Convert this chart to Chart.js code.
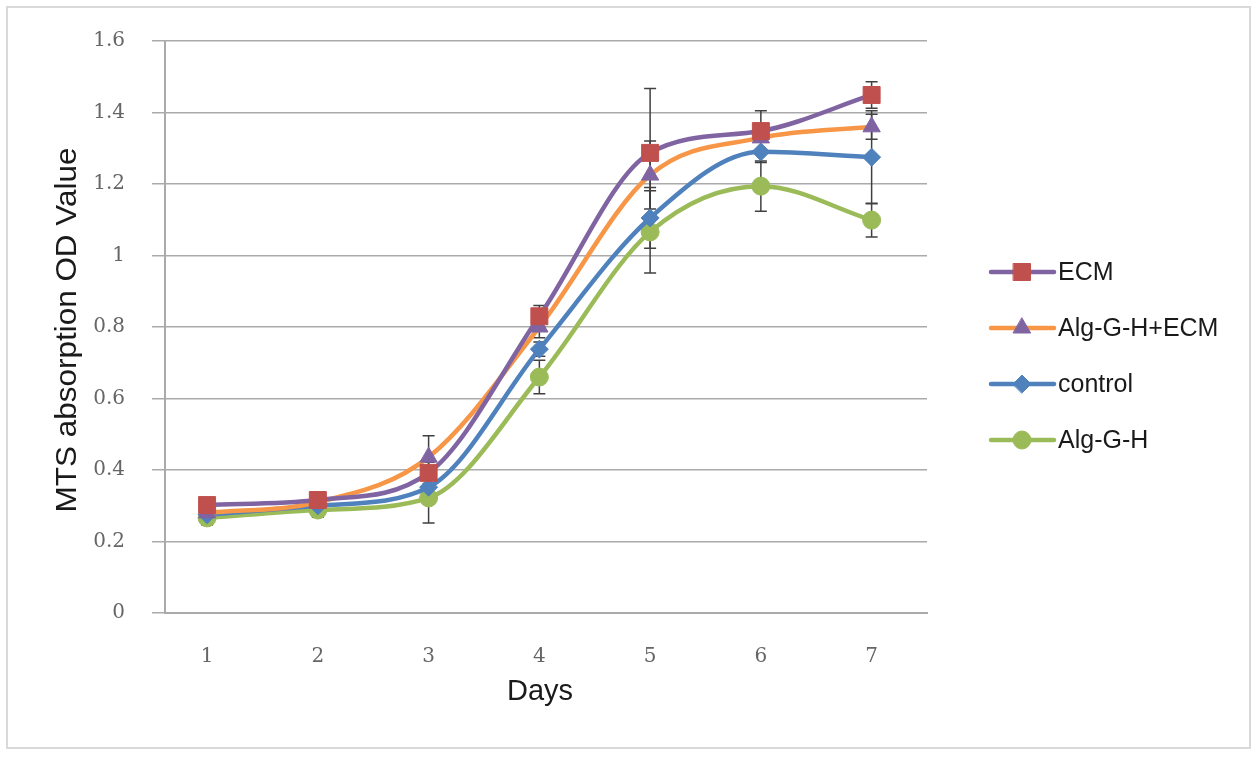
<!DOCTYPE html>
<html>
<head>
<meta charset="utf-8">
<script src="https://cdn.jsdelivr.net/npm/chart.js@4/dist/chart.umd.min.js"></script>
<style>
  body { margin: 0; background: #fff; }
  canvas { display: block; }
</style>
</head>
<body>
<canvas id="chart" width="1260" height="757"></canvas>
<script>
// values
const days = [1, 2, 3, 4, 5, 6, 7];
const yTicks = [0, 0.2, 0.4, 0.6, 0.8, 1, 1.2, 1.4, 1.6];

const ecm = [0.302, 0.316, 0.392, 0.83, 1.287, 1.348, 1.449];
const algGhEcm = [0.28, 0.31, 0.436, 0.8, 1.225, 1.329, 1.36];
const control = [0.275, 0.3, 0.352, 0.738, 1.105, 1.29, 1.275];
const algGh = [0.266, 0.288, 0.322, 0.66, 1.066, 1.194, 1.099];

const ecmErr = [0.01, 0.01, 0.03, 0.03, 0.18, 0.057, 0.037];
const algGhEcmErr = [0.01, 0.01, 0.06, 0.03, 0.095, 0.04, 0.035];
const controlErr = [0.01, 0.01, 0.03, 0.02, 0.085, 0.03, 0.13];
const algGhErr = [0.02, 0.02, 0.07, 0.047, 0.115, 0.07, 0.047];

const series = [
  { label: "ECM", values: ecm, errors: ecmErr, line: "#8064A2", marker: "#C0504D", style: "rect", radius: 12 },
  { label: "Alg-G-H+ECM", values: algGhEcm, errors: algGhEcmErr, line: "#F79646", marker: "#8064A2", style: "triangle", radius: 10 },
  { label: "control", values: control, errors: controlErr, line: "#4F81BD", marker: "#4F81BD", style: "rectRot", radius: 9 },
  { label: "Alg-G-H", values: algGh, errors: algGhErr, line: "#9BBB59", marker: "#9BBB59", style: "circle", radius: 9 },
];

const titleFont = '"Liberation Sans", Arial, sans-serif';
const tickFont = '"DejaVu Serif", serif';

// error bars, drawn under the lines and markers
const errorBars = {
  id: "errorBars",
  beforeDatasetsDraw(chart) {
    const { ctx, scales: { x, y } } = chart;
    ctx.save();
    ctx.strokeStyle = "#404040";
    ctx.lineWidth = 1.5;
    series.forEach((s) => {
      s.values.forEach((v, i) => {
        const px = x.getPixelForValue(days[i]);
        const top = y.getPixelForValue(v + s.errors[i]);
        const bot = y.getPixelForValue(v - s.errors[i]);
        ctx.beginPath();
        ctx.moveTo(px, top); ctx.lineTo(px, bot);
        ctx.moveTo(px - 6, top); ctx.lineTo(px + 6, top);
        ctx.moveTo(px - 6, bot); ctx.lineTo(px + 6, bot);
        ctx.stroke();
      });
    });
    ctx.restore();
  },
};

// axis titles, legend and frame
const decorations = {
  id: "decorations",
  afterDraw(chart) {
    const { ctx, chartArea } = chart;
    ctx.save();
    ctx.strokeStyle = "#d9d9d9";
    ctx.lineWidth = 2;
    ctx.strokeRect(7, 7, 1243, 741);

    ctx.fillStyle = "#1a1a1a";
    ctx.font = "29px " + titleFont;
    ctx.textAlign = "center";
    ctx.textBaseline = "middle";
    ctx.fillText("Days", (chartArea.left + chartArea.right) / 2 - 6, 692);

    ctx.save();
    ctx.translate(68, 330);
    ctx.rotate(-Math.PI / 2);
    const w = ctx.measureText("MTS absorption OD Value").width;
    ctx.scale(365 / w, 1);
    ctx.fillText("MTS absorption OD Value", 0, 0);
    ctx.restore();

    ctx.font = "25px " + titleFont;
    ctx.textAlign = "left";
    series.forEach((s, i) => {
      const ly = 272 + i * 56;
      ctx.strokeStyle = s.line;
      ctx.lineWidth = 4.5;
      ctx.lineCap = "round";
      ctx.beginPath();
      ctx.moveTo(991, ly); ctx.lineTo(1054, ly);
      ctx.stroke();
      ctx.fillStyle = s.marker;
      ctx.strokeStyle = s.marker;
      ctx.lineWidth = 1;
      Chart.helpers.drawPoint(ctx, { pointStyle: s.style, radius: s.radius, rotation: 0, borderWidth: 1 }, 1022, ly);
      ctx.fillStyle = "#1a1a1a";
      ctx.fillText(s.label, 1058, ly + 1);
    });
    ctx.restore();
  },
};

new Chart(document.getElementById("chart"), {
  type: "line",
  data: {
    datasets: series.map((s) => ({
      label: s.label,
      data: days.map((d, i) => ({ x: d, y: s.values[i] })),
      borderColor: s.line,
      borderWidth: 4.5,
      tension: 0.4,
      cubicInterpolationMode: "monotone",
      pointStyle: s.style,
      pointRadius: s.radius,
      pointBackgroundColor: s.marker,
      pointBorderColor: s.marker,
      pointBorderWidth: 1,
    })),
  },
  options: {
    responsive: false,
    animation: false,
    devicePixelRatio: 1,
    layout: { padding: { left: 0, top: 41, right: 333, bottom: 0 } },
    plugins: { legend: { display: false }, tooltip: { enabled: false } },
    scales: {
      x: {
        type: "linear",
        min: 0.62,
        max: 7.5,
        afterBuildTicks: (s) => { s.ticks = days.map((d) => ({ value: d })); },
        afterFit: (s) => { s.height = 144; },
        grid: { display: false },
        border: { color: "#aaaaaa", width: 2 },
        ticks: { color: "#666666", font: { family: tickFont, size: 20 }, padding: 24 },
      },
      y: {
        min: 0,
        max: 1.6,
        afterBuildTicks: (s) => { s.ticks = yTicks.map((v) => ({ value: v })); },
        afterFit: (s) => { s.width = 165; },
        grid: { color: "#aaaaaa", lineWidth: 1.5, tickLength: 13 },
        border: { color: "#aaaaaa", width: 2 },
        ticks: {
          color: "#666666",
          font: { family: tickFont, size: 20 },
          padding: 27,
          callback: (v) => String(Math.round(v * 10) / 10),
        },
      },
    },
  },
  plugins: [errorBars, decorations],
});
</script>
</body>
</html>
